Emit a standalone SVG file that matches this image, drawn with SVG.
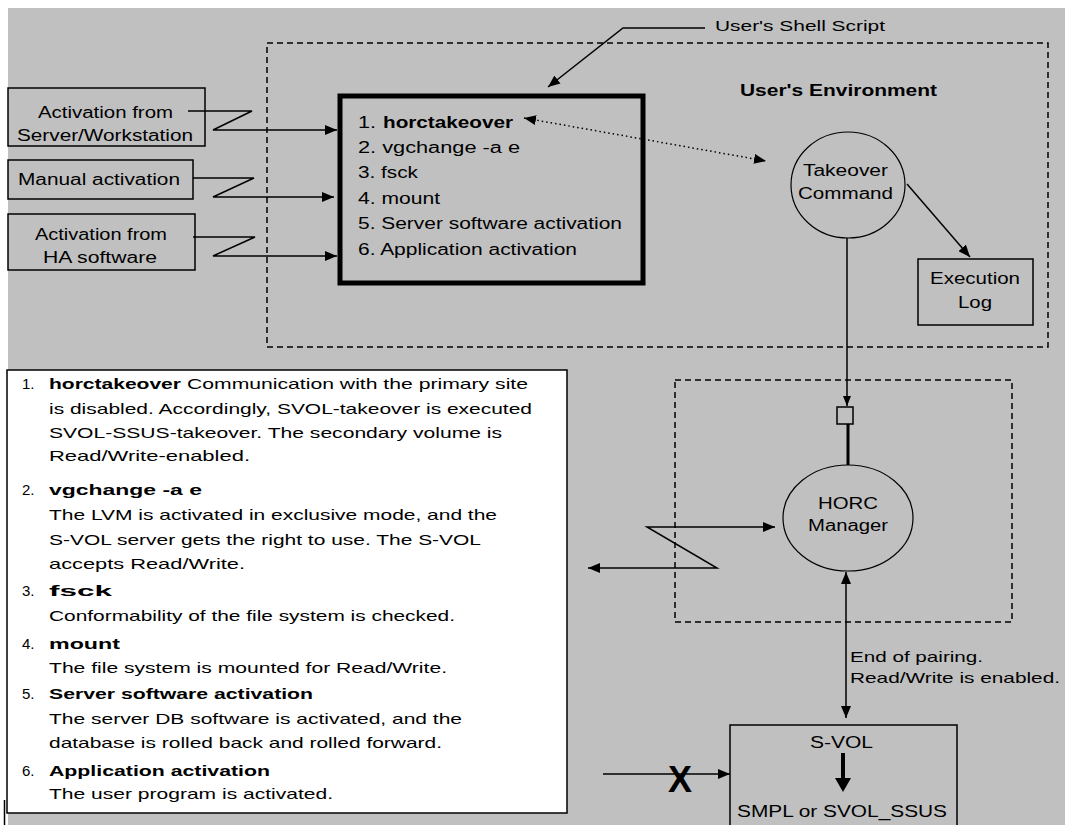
<svg xmlns="http://www.w3.org/2000/svg" width="1065" height="825" viewBox="0 0 1065 825">
<defs>
<style>
text{font-family:"Liberation Sans",Arial,sans-serif;fill:#000;}
.t{font-size:16px;}
.s{font-size:15px;}
.b{font-weight:bold;}
.ln{stroke:#000;stroke-width:1.5;fill:none;}
.dash{stroke:#000;stroke-width:1.5;fill:none;stroke-dasharray:6 4;}
.box{fill:none;stroke:#000;stroke-width:1.5;}
</style>
<marker id="ah" viewBox="0 0 12 10" refX="12" refY="5" markerWidth="12" markerHeight="10" markerUnits="userSpaceOnUse" orient="auto-start-reverse">
<path d="M0,0 L12,5 L0,10 Z" fill="#000"/>
</marker>
<marker id="ahs" viewBox="0 0 10 8" refX="10" refY="4" markerWidth="10" markerHeight="8" markerUnits="userSpaceOnUse" orient="auto-start-reverse">
<path d="M0,0 L10,4 L0,8 Z" fill="#000"/>
</marker>
</defs>
<rect x="0" y="0" width="1065" height="825" fill="#fff"/>
<rect x="8" y="8" width="1057" height="817" fill="#c0c0c0"/>

<g id="env-frame">
<rect x="267" y="43" width="781" height="304" class="dash"/>
<text x="740" y="96" class="t b" textLength="197" lengthAdjust="spacingAndGlyphs">User's Environment</text>
</g>
<g id="horc-frame">
<rect x="675" y="380" width="337" height="242" class="dash"/>
</g>

<g id="shell-label">
<text x="715" y="31" class="s" textLength="170" lengthAdjust="spacingAndGlyphs">User's Shell Script</text>
</g>

<g id="act-server">
<rect x="8" y="88" width="197" height="58" class="box"/>
<text x="38" y="118" class="t" textLength="135" lengthAdjust="spacingAndGlyphs">Activation from</text>
<text x="17" y="141" class="t" textLength="176" lengthAdjust="spacingAndGlyphs">Server/Workstation</text>
</g>
<g id="act-manual">
<rect x="8" y="160" width="185" height="39" class="box"/>
<text x="18" y="185" class="t" textLength="162" lengthAdjust="spacingAndGlyphs">Manual activation</text>
</g>
<g id="act-ha">
<rect x="8" y="214" width="187" height="56" class="box"/>
<text x="35" y="240" class="t" textLength="132" lengthAdjust="spacingAndGlyphs">Activation from</text>
<text x="43" y="263" class="t" textLength="114" lengthAdjust="spacingAndGlyphs">HA software</text>
</g>

<g id="script-box">
<rect x="340" y="96" width="303" height="187" fill="none" stroke="#000" stroke-width="5"/>
<text x="358" y="128" class="t" textLength="18" lengthAdjust="spacingAndGlyphs">1.</text>
<text x="383" y="128" class="t b" textLength="130" lengthAdjust="spacingAndGlyphs">horctakeover</text>
<text x="358" y="153" class="t" textLength="162" lengthAdjust="spacingAndGlyphs">2. vgchange  -a e</text>
<text x="358" y="178" class="t" textLength="60" lengthAdjust="spacingAndGlyphs">3. fsck</text>
<text x="358" y="204" class="t" textLength="82" lengthAdjust="spacingAndGlyphs">4. mount</text>
<text x="358" y="229" class="t" textLength="264" lengthAdjust="spacingAndGlyphs">5. Server software activation</text>
<text x="358" y="255" class="t" textLength="219" lengthAdjust="spacingAndGlyphs">6. Application activation</text>
</g>

<g id="takeover">
<ellipse cx="848" cy="185" rx="57" ry="53" fill="none" stroke="#000" stroke-width="1.2"/>
<text x="803" y="176" class="t" textLength="85" lengthAdjust="spacingAndGlyphs">Takeover</text>
<text x="798" y="199" class="t" textLength="95" lengthAdjust="spacingAndGlyphs">Command</text>
</g>

<g id="exec-log">
<rect x="918" y="259" width="115" height="66" class="box"/>
<text x="930" y="284" class="t" textLength="90" lengthAdjust="spacingAndGlyphs">Execution</text>
<text x="958" y="308" class="t" textLength="34" lengthAdjust="spacingAndGlyphs">Log</text>
</g>

<g id="port">
<rect x="837" y="407" width="16" height="17" fill="none" stroke="#000" stroke-width="1.5"/>
</g>

<g id="horc">
<ellipse cx="848" cy="518" rx="65" ry="53" fill="none" stroke="#000" stroke-width="1.2"/>
<text x="818" y="509" class="t" textLength="60" lengthAdjust="spacingAndGlyphs">HORC</text>
<text x="808" y="531" class="t" textLength="80" lengthAdjust="spacingAndGlyphs">Manager</text>
</g>

<g id="svol">
<rect x="730" y="725" width="227" height="110" class="box"/>
<text x="810" y="748" class="t" textLength="63" lengthAdjust="spacingAndGlyphs">S-VOL</text>
<line x1="843" y1="753" x2="843" y2="780" stroke="#000" stroke-width="4"/>
<path d="M835,778 L851,778 L843,792 Z" fill="#000"/>
<text x="737" y="817" class="t" textLength="210" lengthAdjust="spacingAndGlyphs">SMPL or SVOL_SSUS</text>
</g>

<g id="notes">
<rect x="7" y="370" width="560" height="443" fill="#fff" stroke="#000" stroke-width="1.5"/>
<line x1="4.5" y1="800" x2="4.5" y2="825" stroke="#000" stroke-width="1.5"/>
<text x="22" y="389" class="s">1.</text>
<text x="49" y="389" class="s b" textLength="132" lengthAdjust="spacingAndGlyphs">horctakeover</text>
<text x="187" y="389" class="s" textLength="341" lengthAdjust="spacingAndGlyphs">Communication with the primary site</text>
<text x="49" y="414" class="s" textLength="483" lengthAdjust="spacingAndGlyphs">is disabled. Accordingly, SVOL-takeover is executed</text>
<text x="49" y="438" class="s" textLength="453" lengthAdjust="spacingAndGlyphs">SVOL-SSUS-takeover. The secondary volume is</text>
<text x="49" y="461" class="s" textLength="201" lengthAdjust="spacingAndGlyphs">Read/Write-enabled.</text>
<text x="22" y="495" class="s">2.</text>
<text x="49" y="495" class="s b" textLength="153" lengthAdjust="spacingAndGlyphs">vgchange  -a e</text>
<text x="49" y="520" class="s" textLength="448" lengthAdjust="spacingAndGlyphs">The LVM is activated in exclusive mode, and the</text>
<text x="49" y="545" class="s" textLength="432" lengthAdjust="spacingAndGlyphs">S-VOL server gets the right to use. The S-VOL</text>
<text x="49" y="569" class="s" textLength="196" lengthAdjust="spacingAndGlyphs">accepts Read/Write.</text>
<text x="22" y="596" class="s">3.</text>
<text x="49" y="596" class="s b" textLength="63" lengthAdjust="spacingAndGlyphs">fsck</text>
<text x="49" y="621" class="s" textLength="406" lengthAdjust="spacingAndGlyphs">Conformability of the file system is checked.</text>
<text x="22" y="649" class="s">4.</text>
<text x="49" y="649" class="s b" textLength="71" lengthAdjust="spacingAndGlyphs">mount</text>
<text x="49" y="673" class="s" textLength="398" lengthAdjust="spacingAndGlyphs">The file system is mounted for Read/Write.</text>
<text x="22" y="699" class="s">5.</text>
<text x="49" y="699" class="s b" textLength="264" lengthAdjust="spacingAndGlyphs">Server software activation</text>
<text x="49" y="724" class="s" textLength="413" lengthAdjust="spacingAndGlyphs">The server DB software is activated, and the</text>
<text x="49" y="748" class="s" textLength="393" lengthAdjust="spacingAndGlyphs">database is rolled back and rolled forward.</text>
<text x="22" y="776" class="s">6.</text>
<text x="49" y="776" class="s b" textLength="221" lengthAdjust="spacingAndGlyphs">Application activation</text>
<text x="49" y="799" class="s" textLength="284" lengthAdjust="spacingAndGlyphs">The user program is activated.</text>
</g>

<g id="connectors">
<polyline points="705,28 623,28 548,87" class="ln" stroke-width="1.2" marker-end="url(#ah)"/>
<polyline points="188,111 252,111 213,130 337,130" class="ln" marker-end="url(#ah)"/>
<polyline points="193,178 254,178 213,197 334,197" class="ln" marker-end="url(#ah)"/>
<polyline points="193,237 255,237 213,256 337,256" class="ln" marker-end="url(#ah)"/>
<line x1="524" y1="118" x2="766" y2="161" stroke="#000" stroke-width="1.5" stroke-dasharray="1.5 3" marker-start="url(#ah)" marker-end="url(#ah)"/>
<line x1="907" y1="184" x2="970" y2="257" class="ln" stroke-width="1.2" marker-end="url(#ah)"/>
<line x1="847" y1="238" x2="847" y2="406" class="ln" marker-end="url(#ahs)"/>
<line x1="848" y1="424" x2="848" y2="465" stroke="#000" stroke-width="3"/>
<polyline points="588,568 717,568 647,527 775,527" class="ln" marker-start="url(#ah)" marker-end="url(#ah)"/>
<line x1="846" y1="572" x2="846" y2="718" class="ln" marker-start="url(#ah)" marker-end="url(#ah)"/>
<line x1="603" y1="774" x2="730" y2="774" class="ln" marker-end="url(#ah)"/>
<text x="668" y="792" font-size="36" font-weight="bold" textLength="24" lengthAdjust="spacingAndGlyphs">X</text>
<text x="850" y="662" class="s" textLength="133" lengthAdjust="spacingAndGlyphs">End of pairing.</text>
<text x="850" y="683" class="s" textLength="210" lengthAdjust="spacingAndGlyphs">Read/Write is enabled.</text>
</g>
</svg>
